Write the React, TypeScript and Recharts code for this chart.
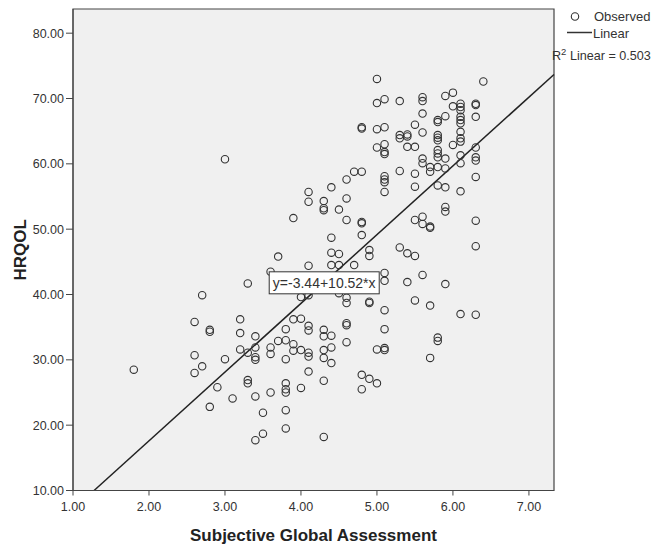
import {
  ReferenceArea,
  ReferenceDot,
  ReferenceLine,
  Scatter,
  ScatterChart,
  XAxis,
  YAxis,
} from 'recharts';

// SGA score levels (x) and the HRQOL values observed at each level (y)
const SGA_LEVELS = [
  1.8, 2.6, 2.7, 2.8, 2.9, 3.0, 3.1, 3.2, 3.3, 3.4, 3.5, 3.6, 3.7, 3.8, 3.9, 4.0,
  4.1, 4.3, 4.4, 4.5, 4.6, 4.7, 4.8, 4.9, 5.0, 5.1, 5.3, 5.4, 5.5, 5.6, 5.7, 5.8,
  5.9, 6.0, 6.1, 6.3, 6.4,
];

const HRQOL_BY_LEVEL = [
  [28.5],
  [35.8, 30.7, 28.0],
  [39.9, 29.0],
  [34.6, 34.3, 22.8],
  [25.8],
  [60.7, 30.1],
  [24.1],
  [36.2, 34.1, 31.6],
  [41.7, 31.1, 26.9, 26.4],
  [33.6, 31.9, 30.4, 30.0, 24.4, 17.7],
  [21.9, 18.7],
  [43.5, 31.9, 30.9, 25.0],
  [45.8, 32.9],
  [34.7, 33.0, 30.1, 26.4, 25.5, 25.0, 22.3, 19.5],
  [51.7, 36.2, 32.4, 31.4],
  [39.6, 36.3, 31.5, 25.7],
  [55.7, 54.2, 44.4, 39.9, 35.2, 34.5, 31.1, 30.5, 28.2],
  [54.3, 53.2, 52.9, 34.6, 33.6, 31.5, 30.3, 26.8, 18.2],
  [56.4, 48.7, 46.4, 44.5, 33.7, 31.9, 29.5],
  [53.0, 46.2, 44.5, 40.2],
  [57.6, 54.7, 51.4, 39.5, 38.7, 35.6, 35.3, 32.7],
  [58.8, 44.5],
  [65.6, 65.4, 58.8, 51.1, 50.9, 49.1, 27.7, 25.5],
  [46.8, 45.9, 38.9, 38.7, 27.1],
  [73.0, 69.3, 65.3, 62.5, 31.6, 26.4],
  [69.9, 65.6, 63.0, 61.8, 61.5, 58.1, 57.6, 57.2, 55.7, 43.3, 42.1, 37.6, 34.7, 31.8, 31.5],
  [69.6, 64.4, 63.9, 58.9, 47.2],
  [64.5, 64.2, 62.6, 46.3, 41.9],
  [66.0, 62.6, 58.5, 56.5, 51.4, 45.9, 39.1],
  [70.2, 69.6, 67.7, 64.8, 60.8, 60.1, 51.9, 50.8, 43.0],
  [59.5, 58.8, 50.4, 50.2, 38.3, 30.3],
  [66.7, 66.4, 64.4, 64.0, 63.6, 62.1, 61.6, 61.0, 59.5, 56.7, 33.4, 32.9],
  [70.4, 67.3, 60.8, 59.3, 56.4, 53.4, 52.7, 41.6],
  [70.9, 68.8, 62.9],
  [69.2, 68.7, 68.2, 67.2, 66.7, 66.2, 64.9, 63.9, 63.4, 61.3, 60.1, 55.8, 37.0],
  [69.2, 69.0, 67.2, 62.5, 61.0, 60.5, 58.0, 51.3, 47.4, 36.9],
  [72.6],
];

const X_TICKS = [1, 2, 3, 4, 5, 6, 7];
const Y_TICKS = [10, 20, 30, 40, 50, 60, 70, 80];
const X_DOMAIN = [1, 7.33];
const Y_DOMAIN = [10, 83.7];

// linear fit reported by SPSS
const INTERCEPT = -3.44;
const SLOPE = 10.52;
const R2 = 0.503;

const FONT = '"Liberation Sans", Arial, sans-serif';
const INK = '#333';

const puntos = SGA_LEVELS.flatMap((x, i) => HRQOL_BY_LEVEL[i].map((y) => ({ x, y })));

// fit line clipped to the plot: starts where it meets y = 10
const xIni = (Y_DOMAIN[0] - INTERCEPT) / SLOPE;
const xFin = X_DOMAIN[1];
const fit = (x: number) => INTERCEPT + SLOPE * x;

const Circulo = (p: any) => (
  <circle cx={p.cx} cy={p.cy} r={3.7} fill="none" stroke={INK} strokeWidth={1.1} />
);

const CajaEcuacion = (p: any) => (
  <g>
    <rect x={p.cx - 55} y={p.cy - 11} width={110} height={22} fill="#fff" stroke={INK} strokeWidth={1} />
    <text x={p.cx} y={p.cy + 5} textAnchor="middle" fontSize={14} fontFamily={FONT} fill={INK}>
      {`y=${INTERCEPT.toFixed(2)}+${SLOPE.toFixed(2)}*x`}
    </text>
  </g>
);

// legend drawn in page coordinates (svg placed at the page origin)
function Leyenda() {
  return (
    <svg
      width={653}
      height={70}
      style={{ position: 'absolute', left: -8, top: -8, pointerEvents: 'none' }}
    >
      <circle cx={575} cy={16.5} r={3.7} fill="none" stroke={INK} strokeWidth={1.1} />
      <text x={594} y={21} fontSize={13} fontFamily={FONT} fill={INK}>Observed</text>
      <line x1={567} y1={32.5} x2={592} y2={32.5} stroke={INK} strokeWidth={1.5} />
      <text x={593} y={37.5} fontSize={13} fontFamily={FONT} fill={INK}>Linear</text>
      <text x={552} y={59.5} fontSize={12.6} fontFamily={FONT} fill={INK}>
        R<tspan dy={-5} fontSize={9.5}>2</tspan>
        <tspan dy={5}>{` Linear = ${R2.toFixed(3)}`}</tspan>
      </text>
    </svg>
  );
}

const tituloY = (props: any) => {
  const vb = props.viewBox;
  const cy = vb.y + vb.height / 2;
  return (
    <text
      transform={`translate(12, ${cy}) rotate(-90)`}
      textAnchor="middle"
      dominantBaseline="central"
      fontSize={17}
      fontWeight="bold"
      fontFamily={FONT}
      fill="#222"
    >
      HRQOL
    </text>
  );
};

export default function App() {
  const tick = { fontSize: 12.5, fontFamily: FONT, fill: INK };
  return (
    <div style={{ position: 'absolute', left: 8, top: 8, width: 645, height: 538 }}>
      <ScatterChart width={645} height={538} margin={{ top: 1, right: 99, bottom: 5, left: 0 }}>
        <ReferenceArea
          x1={X_DOMAIN[0]}
          x2={X_DOMAIN[1]}
          y1={Y_DOMAIN[0]}
          y2={Y_DOMAIN[1]}
          fill="#f0f0f0"
          fillOpacity={1}
          stroke="#444"
          strokeWidth={1.2}
        />
        <XAxis
          type="number"
          dataKey="x"
          domain={X_DOMAIN}
          ticks={X_TICKS}
          allowDataOverflow
          height={50.5}
          tick={tick}
          tickFormatter={(v: number) => v.toFixed(2)}
          tickSize={5}
          tickMargin={7}
          stroke="#444"
          label={{
            value: 'Subjective Global Assessment',
            position: 'insideBottom',
            offset: 0,
            style: { fontSize: 17, fontWeight: 'bold', fontFamily: FONT, fill: '#222' },
          }}
        />
        <YAxis
          type="number"
          dataKey="y"
          domain={Y_DOMAIN}
          ticks={Y_TICKS}
          allowDataOverflow
          width={65}
          tick={tick}
          tickFormatter={(v: number) => v.toFixed(2)}
          tickSize={7}
          tickMargin={2}
          stroke="#444"
          label={{ content: tituloY }}
        />
        <Scatter data={puntos} shape={Circulo} isAnimationActive={false} />
        <ReferenceLine
          segment={[
            { x: xIni, y: fit(xIni) },
            { x: xFin, y: fit(xFin) },
          ]}
          stroke="#222"
          strokeWidth={1.5}
        />
        <ReferenceDot x={4.306} y={41.79} r={0} shape={CajaEcuacion} />
      </ScatterChart>
      <Leyenda />
    </div>
  );
}
